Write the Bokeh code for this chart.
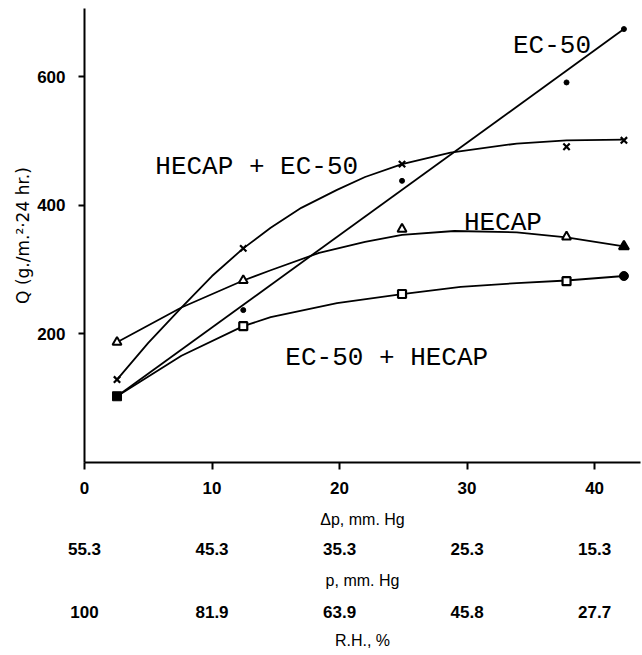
from bokeh.plotting import figure
from bokeh.models import Range1d, LinearAxis, FixedTicker, Title
from bokeh.core.properties import value
from bokeh.embed import file_html
from bokeh.resources import INLINE

# ---- data ----
dp = [2.55, 12.45, 24.9, 37.8, 42.3]          # delta p, mm Hg
ec50 = [103, 237, 438, 591, 674]              # EC-50 (dots)
hecap_ec50 = [129, 333, 464, 491, 501]        # HECAP + EC-50 (crosses)
hecap = [187, 283, 363, 351, 336]             # HECAP (triangles)
ec50_hecap = [103, 212, 262, 282, 290]        # EC-50 + HECAP (squares)

# hand-drawn curves, points
hecap_ec50_curve_dp = [2.55, 5.0, 7.6, 10.0, 12.45, 14.6, 17.0, 19.8, 22.0, 24.9, 28.7, 33.9, 37.8, 42.3]
hecap_ec50_curve_q = [129, 186, 241, 290, 333, 365, 396, 424, 444, 464, 482, 496, 501, 502]
hecap_curve_dp = [2.55, 7.6, 12.45, 14.6, 18.4, 22.0, 24.9, 29.0, 33.9, 37.8, 42.3]
hecap_curve_q = [187, 241, 283, 299, 326, 343, 354, 360, 358, 350, 336]
ec50_hecap_curve_dp = [2.55, 7.6, 12.45, 14.6, 19.8, 24.9, 29.5, 33.9, 37.8, 42.3]
ec50_hecap_curve_q = [103, 166, 212, 226, 248, 262, 273, 279, 283, 290]

x_ticks = [0, 10, 20, 30, 40]
y_ticks = [200, 400, 600]
p_labels = ["55.3", "45.3", "35.3", "25.3", "15.3"]
rh_labels = ["100", "81.9", "63.9", "45.8", "27.7"]

TICK_FONT = "Liberation Sans"
TITLE_FONT = "Liberation Sans"
YLABEL_FONT = "DejaVu Sans"
CURVE_FONT = "Liberation Mono"

p = figure(width=642, height=655, output_backend="svg", toolbar_location=None,
           x_range=Range1d(0, 43.6), y_range=Range1d(0, 706),
           min_border_left=84, min_border_right=2, min_border_top=8, min_border_bottom=193)
p.outline_line_color = None
p.xgrid.visible = False
p.ygrid.visible = False
p.background_fill_color = "white"
p.border_fill_color = "white"


def style_labels(ax):
    ax.major_label_text_font = TICK_FONT
    ax.major_label_text_font_style = "bold"
    ax.major_label_text_font_size = "17px"
    ax.major_label_text_color = "black"
    ax.axis_label_text_font = TITLE_FONT
    ax.axis_label_text_font_style = "normal"
    ax.axis_label_text_font_size = "16px"
    ax.axis_label_text_color = "black"


# x axis (delta p)
xa = p.xaxis[0]
xa.ticker = FixedTicker(ticks=x_ticks)
xa.minor_tick_line_color = None
xa.axis_line_width = 2
xa.axis_line_color = "black"
xa.major_tick_line_width = 2
xa.major_tick_line_color = "black"
xa.major_tick_out = 7
xa.major_tick_in = 0
xa.major_label_standoff = 12
xa.axis_label = "Δp, mm. Hg"
xa.axis_label_standoff = 14
style_labels(xa)

for labels, title, s1, s2 in [(p_labels, "p, mm. Hg", 12, 14), (rh_labels, "R.H., %", 14, 11)]:
    ax = LinearAxis(ticker=FixedTicker(ticks=x_ticks),
                    major_label_overrides={t: l for t, l in zip(x_ticks, labels)})
    ax.axis_line_color = None
    ax.major_tick_line_color = None
    ax.minor_tick_line_color = None
    ax.major_tick_out = 0
    ax.major_tick_in = 0
    ax.major_label_standoff = s1
    ax.axis_label = title
    ax.axis_label_standoff = s2
    style_labels(ax)
    p.add_layout(ax, "below")

# y axis
ya = p.yaxis[0]
ya.ticker = FixedTicker(ticks=y_ticks)
ya.minor_tick_line_color = None
ya.axis_line_width = 2
ya.axis_line_color = "black"
ya.major_tick_line_width = 2
ya.major_tick_line_color = "black"
ya.major_tick_out = 6
ya.major_tick_in = 0
ya.major_label_standoff = 13
style_labels(ya)

p.add_layout(Title(text="Q (g./m.²·24 hr.)", align="center", offset=-24, standoff=4,
                   text_font=YLABEL_FONT, text_font_size="17px", text_font_style="normal",
                   text_color="black"), "left")

# curves
LW = 1.8
p.line(x=[dp[0], dp[-1]], y=[ec50[0], ec50[-1]], line_color="black", line_width=LW)
p.line(x=hecap_ec50_curve_dp, y=hecap_ec50_curve_q, line_color="black", line_width=LW, line_join="round")
p.line(x=hecap_curve_dp, y=hecap_curve_q, line_color="black", line_width=LW, line_join="round")
p.line(x=ec50_hecap_curve_dp, y=ec50_hecap_curve_q, line_color="black", line_width=LW, line_join="round")

# markers
p.scatter(x=dp[1:], y=ec50[1:], marker="circle", size=5, fill_color="black", line_color="black")
p.scatter(x=dp, y=hecap_ec50, marker="x", size=9, line_color="black", line_width=2.2)
p.scatter(x=dp[:-1], y=hecap, marker="triangle", size=9, fill_color="white", line_color="black", line_width=2)
p.scatter(x=dp[-1:], y=hecap[-1:], marker="triangle", size=10, fill_color="black", line_color="black", line_width=2)
p.scatter(x=dp[1:-1], y=ec50_hecap[1:-1], marker="square", size=8, fill_color="white", line_color="black", line_width=2.2)
p.scatter(x=dp[:1], y=ec50_hecap[:1], marker="square", size=9, fill_color="black", line_color="black")
p.scatter(x=dp[-1:], y=ec50_hecap[-1:], marker="circle", size=9, fill_color="black", line_color="black")

# curve labels
p.text(x=[5.55, 33.6, 29.75, 15.75], y=[459, 647, 373, 163],
       text=["HECAP + EC-50", "EC-50", "HECAP", "EC-50 + HECAP"],
       text_font=value(CURVE_FONT), text_font_size="26px",
       text_align="left", text_baseline="alphabetic", text_color="black")

open("out.html", "w").write(file_html(p, INLINE))
